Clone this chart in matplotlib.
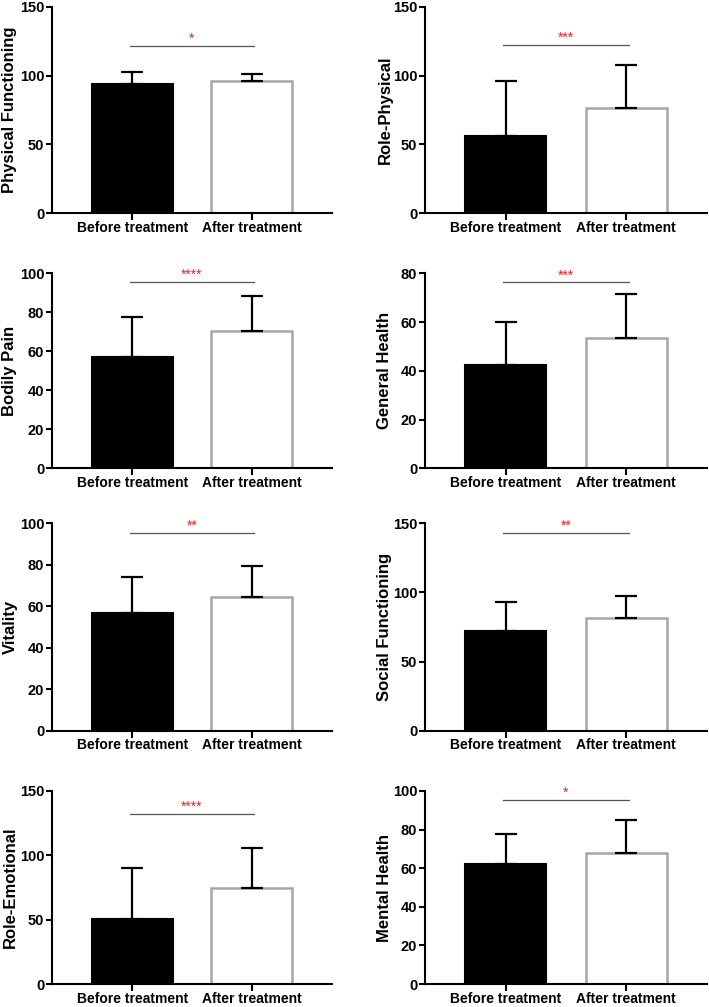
import matplotlib
matplotlib.use("Agg")
import matplotlib.pyplot as plt

plt.rcParams['font.family'] = ['Liberation Sans', 'DejaVu Sans']
plt.rcParams['font.weight'] = 'bold'

groups = ["Before treatment", "After treatment"]
domains = ["Physical Functioning", "Role-Physical", "Bodily Pain", "General Health",
           "Vitality", "Social Functioning", "Role-Emotional", "Mental Health"]
before_mean = [93.9, 56.4, 57.1, 42.4, 56.6, 72.1, 50.3, 62.4]
before_sd = [8.9, 39.9, 20.5, 17.5, 17.7, 20.7, 40.2, 15.2]
after_mean = [96.3, 76.2, 70.4, 53.6, 64.6, 81.7, 74.7, 67.8]
after_sd = [4.8, 31.2, 18.0, 17.8, 14.8, 15.7, 31.2, 17.4]
sig_labels = ["*", "***", "****", "***", "**", "**", "****", "*"]
sig_height = [121.7, 122.2, 95.4, 76.3, 95.3, 143.0, 132.2, 95.5]
y_max = [150, 150, 100, 80, 100, 150, 150, 100]
y_step = [50, 50, 20, 20, 20, 50, 50, 20]

W, H = 709, 1007
fig = plt.figure(figsize=(W / 100, H / 100), dpi=100)

# pixel geometry: (zero_y, top_y) per row, (spine_x, right_x) per column
rows = [(213.3, 6.7), (468.3, 273.3), (730.7, 523.3), (984.0, 791.0)]
cols = [(52.0, 332.0), (425.0, 707.0)]
label_center_px = [10.0, 385.0]

for i, name in enumerate(domains):
    r, c = divmod(i, 2)
    zy, ty = rows[r]
    lx, rx = cols[c]
    ax = fig.add_axes([lx / W, 1 - zy / H, (rx - lx) / W, (zy - ty) / H])
    x = [0, 1]
    ax.bar(0, before_mean[i], width=0.675, color='black', edgecolor='black',
           linewidth=1.5, zorder=2)
    ax.bar(1, after_mean[i], width=0.675, color='white', edgecolor='#a6a6a6',
           linewidth=1.8, zorder=2)
    ax.errorbar(x, [before_mean[i], after_mean[i]],
                yerr=[[0, 0], [before_sd[i], after_sd[i]]],
                fmt='none', ecolor='black', elinewidth=1.6, capsize=8,
                capthick=1.6, zorder=3)
    ax.plot([-0.02, 1.02], [sig_height[i]] * 2, color='#555555', lw=0.9, zorder=3)
    ax.text(0.5, sig_height[i], sig_labels[i], color='#ff1a1a', ha='center',
            va='bottom', fontsize=10, fontweight='normal')
    ax.set_xlim(-0.67, 1.67)
    ax.set_ylim(0, y_max[i])
    ax.set_yticks(list(range(0, y_max[i] + 1, y_step[i])))
    ax.set_xticks(x)
    ax.set_xticklabels(groups)
    ax.set_ylabel(name, fontsize=12, fontweight='bold')
    ax.yaxis.set_label_coords((label_center_px[c] - lx) / (rx - lx), 0.5)
    ax.yaxis.label.set_verticalalignment('center')
    for s in ['top', 'right']:
        ax.spines[s].set_visible(False)
    for s in ['left', 'bottom']:
        ax.spines[s].set_linewidth(1.5)
    ax.tick_params(axis='y', length=4, width=1.5, pad=1.5, labelsize=10.5)
    ax.tick_params(axis='x', length=5, width=1.5, pad=0.5, labelsize=10)
    for lab in ax.get_xticklabels() + ax.get_yticklabels():
        lab.set_fontweight('bold')

fig.savefig("out.png", dpi=100)
